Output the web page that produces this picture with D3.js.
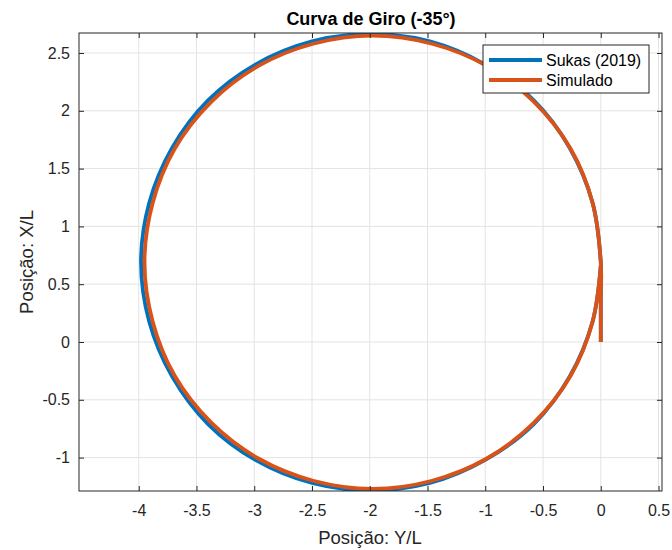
<!DOCTYPE html>
<html>
<head>
<meta charset="utf-8">
<script src="https://cdn.jsdelivr.net/npm/d3@7"></script>
<style>
  body { margin: 0; background: #fff; }
  svg { display: block; }
</style>
</head>
<body>
<script>
// Curve points (Y/L, X/L)
const sukasY = [0, 0, 0, -0.07, -0.27, -0.58, -1.0, -1.48, -1.99, -2.5, -2.99, -3.4, -3.71, -3.91, -3.98,
  -3.91, -3.71, -3.4, -2.99, -2.5, -1.99, -1.48, -1.0, -0.58, -0.27, -0.07, 0];
const sukasX = [0, 0.35, 0.69, 1.2, 1.68, 2.09, 2.4, 2.6, 2.665, 2.6, 2.4, 2.09, 1.68, 1.2, 0.69,
  0.18, -0.3, -0.71, -1.02, -1.22, -1.285, -1.22, -1.02, -0.71, -0.3, 0.18, 0.66];
const simY = [0, 0, 0, -0.07, -0.26, -0.58, -0.99, -1.46, -1.975, -2.49, -2.96, -3.37, -3.69, -3.88, -3.95,
  -3.88, -3.69, -3.37, -2.96, -2.49, -1.975, -1.46, -0.99, -0.58, -0.26, -0.07, 0];
const simX = [0, 0.35, 0.69, 1.2, 1.67, 2.08, 2.39, 2.58, 2.65, 2.58, 2.39, 2.08, 1.67, 1.2, 0.69,
  0.18, -0.29, -0.7, -1.01, -1.2, -1.27, -1.2, -1.01, -0.7, -0.29, 0.18, 0.66];

const xTicks = [-4, -3.5, -3, -2.5, -2, -1.5, -1, -0.5, 0, 0.5];
const yTicks = [-1, -0.5, 0, 0.5, 1, 1.5, 2, 2.5];
const seriesNames = ["Sukas (2019)", "Simulado"];
const seriesColors = ["#0072BD", "#D95319"];

const width = 672, height = 550;
const plot = { left: 79, right: 662, top: 33, bottom: 491 };
const font = "'Liberation Sans', Arial, Helvetica, sans-serif";
const ink = "#262626";
const fmt = d => String(d).replace("\u2212", "-");

const xScale = d3.scaleLinear().domain([-4.517, 0.53]).range([plot.left, plot.right]);
const yScale = d3.scaleLinear().domain([-1.289, 2.673]).range([plot.bottom, plot.top]);

const svg = d3.select("body").append("svg")
  .attr("width", width)
  .attr("height", height);

svg.append("defs").append("clipPath").attr("id", "clip")
  .append("rect")
  .attr("x", plot.left).attr("y", plot.top)
  .attr("width", plot.right - plot.left).attr("height", plot.bottom - plot.top);

// Grid
const grid = svg.append("g");
grid.selectAll(".gx").data(xTicks).join("line")
  .attr("x1", d => xScale(d)).attr("x2", d => xScale(d))
  .attr("y1", plot.top).attr("y2", plot.bottom)
  .attr("stroke", "#e3e3e3").attr("stroke-width", 1);
grid.selectAll(".gy").data(yTicks).join("line")
  .attr("x1", plot.left).attr("x2", plot.right)
  .attr("y1", d => yScale(d)).attr("y2", d => yScale(d))
  .attr("stroke", "#e3e3e3").attr("stroke-width", 1);

// Lines
const series = [
  { name: seriesNames[0], color: seriesColors[0], pts: sukasY.map((v, i) => [v, sukasX[i]]) },
  { name: seriesNames[1], color: seriesColors[1], pts: simY.map((v, i) => [v, simX[i]]) }
];
const line = d3.line()
  .x(d => xScale(d[0]))
  .y(d => yScale(d[1]))
  .curve(d3.curveCatmullRom.alpha(0.5));

svg.append("g").attr("clip-path", "url(#clip)")
  .selectAll("path").data(series).join("path")
  .attr("d", d => line(d.pts))
  .attr("fill", "none")
  .attr("stroke", d => d.color)
  .attr("stroke-width", 3.8)
  .attr("stroke-linejoin", "round");

// Axes (MATLAB style: inward ticks on all sides)
const tickLen = 5;
const styleAxis = g => {
  g.select(".domain").remove();
  g.selectAll(".tick line").attr("stroke", ink);
  g.selectAll(".tick text").attr("fill", ink).attr("font-size", "16px").attr("font-family", font);
};
svg.append("g")
  .attr("transform", `translate(0,${plot.bottom})`)
  .call(d3.axisBottom(xScale).tickValues(xTicks).tickSize(-tickLen).tickPadding(14).tickFormat(fmt))
  .call(styleAxis);
svg.append("g")
  .attr("transform", `translate(0,${plot.top})`)
  .call(d3.axisTop(xScale).tickValues(xTicks).tickSize(-tickLen).tickFormat(""))
  .call(styleAxis);
svg.append("g")
  .attr("transform", `translate(${plot.left},0)`)
  .call(d3.axisLeft(yScale).tickValues(yTicks).tickSize(-tickLen).tickPadding(9).tickFormat(fmt))
  .call(styleAxis);
svg.append("g")
  .attr("transform", `translate(${plot.right},0)`)
  .call(d3.axisRight(yScale).tickValues(yTicks).tickSize(-tickLen).tickFormat(""))
  .call(styleAxis);

// Box
svg.append("rect")
  .attr("x", plot.left).attr("y", plot.top)
  .attr("width", plot.right - plot.left).attr("height", plot.bottom - plot.top)
  .attr("fill", "none").attr("stroke", ink).attr("stroke-width", 1);

// Title
svg.append("text")
  .attr("x", 371).attr("y", 25)
  .attr("text-anchor", "middle")
  .attr("font-family", font).attr("font-size", "18px").attr("font-weight", "bold")
  .attr("fill", "#000")
  .text("Curva de Giro (-35°)");

// Axis labels
svg.append("text")
  .attr("x", 370).attr("y", 544)
  .attr("text-anchor", "middle")
  .attr("font-family", font).attr("font-size", "18.5px")
  .attr("fill", ink)
  .text("Posição: Y/L");
svg.append("text")
  .attr("transform", `translate(33, 262) rotate(-90)`)
  .attr("text-anchor", "middle")
  .attr("font-family", font).attr("font-size", "18.5px")
  .attr("fill", ink)
  .text("Posição: X/L");

// Legend
const legend = svg.append("g").attr("transform", "translate(483,45)");
legend.append("rect")
  .attr("width", 166).attr("height", 48)
  .attr("fill", "#fff").attr("stroke", ink).attr("stroke-width", 1);
const items = legend.selectAll(".item").data(series).join("g")
  .attr("transform", (d, i) => `translate(0,${15 + i * 20})`);
items.append("line")
  .attr("x1", 6).attr("x2", 59)
  .attr("stroke", d => d.color).attr("stroke-width", 3.8);
items.append("text")
  .attr("x", 63).attr("dy", "0.35em")
  .attr("font-family", font).attr("font-size", "16px")
  .attr("fill", "#000")
  .text(d => d.name);
</script>
</body>
</html>
